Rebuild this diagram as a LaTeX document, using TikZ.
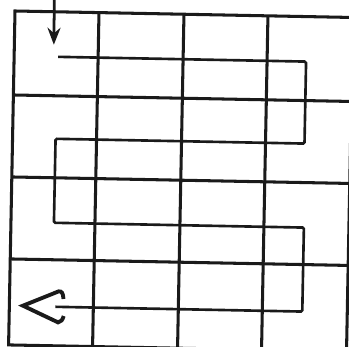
\documentclass[tikz,border=0pt]{standalone}
\usepackage{xcolor}
\usepackage{tikz}
\usetikzlibrary{arrows.meta}
\definecolor{ink}{HTML}{1A1A1A}

\begin{document}
\begin{tikzpicture}[x=1in,y=1in]
  \useasboundingbox (0,0) rectangle (3.49,3.47);
  \clip (0,0) rectangle (3.49,3.47);
  % the sheet is scanned a little askew
  \begin{scope}[shift={(0.15,3.36)},rotate=-1.1,ink,line width=2.2pt]
    \draw (0,0) rectangle (3.38,-3.34);
    \foreach \x in {0.84,1.69,2.53}
      \draw (\x,0) -- (\x,-3.34);
    \foreach \y in {0.84,1.66,2.48}
      \draw (0,-\y) -- (3.38,-\y);
    \coordinate (start) at (0.39,0.25);
    \coordinate (entry) at (0.395,-0.33);
    \draw[line width=2pt,-{Stealth[length=0.17in,width=0.13in]}] (start) -- (entry);
    \coordinate (head) at (0.46,-2.95);
    \draw[line width=1.9pt,rounded corners=1pt] (0.44,-0.45) -- (2.92,-0.45) -- (2.92,-1.27) -- (0.43,-1.27)
      -- (0.43,-2.11) -- (2.93,-2.11) -- (2.93,-2.95) -- (head);
    \draw[line width=2.8pt,line join=miter] (0.54,-2.87) .. controls (0.535,-2.81) and (0.52,-2.79) .. (0.49,-2.795)
      -- (0.136,-2.945) -- (0.49,-3.105) .. controls (0.52,-3.10) and (0.535,-3.08) .. (0.545,-3.04);
  \end{scope}
\end{tikzpicture}
\end{document}
